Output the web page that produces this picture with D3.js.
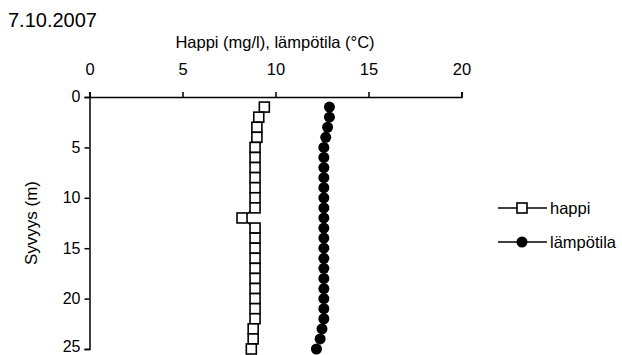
<!DOCTYPE html>
<html>
<head>
<meta charset="utf-8">
<script src="https://cdn.jsdelivr.net/npm/d3@7"></script>
<style>
  html, body { margin: 0; padding: 0; background: #fff; }
  svg { display: block; font-family: "Liberation Sans", Arial, sans-serif; }
</style>
</head>
<body>
<svg id="chart" width="622" height="355"></svg>
<script>
// Depth profile, 7.10.2007
const depths = [1,2,3,4,5,6,7,8,9,10,11,12,13,14,15,16,17,18,19,20,21,22,23,24,25];
const happi = [9.4,9.1,9.0,9.0,8.9,8.9,8.9,8.9,8.9,8.9,8.9,8.2,8.9,8.9,8.9,8.9,8.9,8.9,8.9,8.9,8.9,8.9,8.8,8.8,8.7];
const lampotila = [12.9,12.9,12.8,12.7,12.6,12.6,12.6,12.6,12.6,12.6,12.6,12.6,12.6,12.6,12.6,12.6,12.6,12.6,12.6,12.6,12.6,12.6,12.5,12.4,12.2];
const xTicks = [0,5,10,15,20];
const yTicks = [0,5,10,15,20,25];
const seriesNames = ["happi", "lämpötila"];

const svg = d3.select("#chart");
const plot = { left: 89.5, right: 461.5, top: 97, bottom: 349 };

const x = d3.scaleLinear().domain([0, 20]).range([plot.left, plot.right]);
const y = d3.scaleLinear().domain([0, 25]).range([plot.top, plot.bottom]);

// Date caption
svg.append("text").attr("x", 8).attr("y", 27)
  .attr("font-size", 20).attr("fill", "#000").text("7.10.2007");

// Axis title over the top axis
svg.append("text").attr("x", 275).attr("y", 48).attr("text-anchor", "middle")
  .attr("font-size", 16.5).attr("fill", "#000").text("Happi (mg/l), lämpötila (°C)");

// Top x axis
const xAxis = svg.append("g").attr("transform", `translate(0,${plot.top})`)
  .call(d3.axisTop(x).tickValues(xTicks).tickSize(5).tickPadding(17).tickFormat(d3.format("d")));
xAxis.selectAll("text").attr("font-size", 16.5).attr("fill", "#000").attr("font-family", null);
xAxis.select(".domain").attr("stroke", "#000").attr("stroke-width", 1.5);
xAxis.selectAll(".tick line").attr("stroke", "#000").attr("stroke-width", 1.5);

// Left y axis (depth); the bottom label is nudged up to stay inside the canvas
const yAxis = svg.append("g").attr("transform", `translate(${plot.left},0)`)
  .call(d3.axisLeft(y).tickValues(yTicks).tickSize(5).tickPadding(4).tickFormat(d3.format("d")));
yAxis.selectAll("text").attr("font-size", 16).attr("fill", "#000").attr("font-family", null)
  .attr("dy", d => d === 25 ? "0.16em" : "0.3em");
yAxis.select(".domain").attr("stroke", "#000").attr("stroke-width", 1.5);
yAxis.selectAll(".tick line").attr("stroke", "#000").attr("stroke-width", 1.5);

// Y axis title
svg.append("text").attr("transform", "translate(37,223) rotate(-90)")
  .attr("text-anchor", "middle").attr("font-size", 17).attr("fill", "#000").text("Syvyys (m)");

const line = vals => d3.line().x((d, i) => x(vals[i])).y(d => y(d))(depths);

// Oxygen series
svg.append("path").attr("d", line(happi)).attr("fill", "none")
  .attr("stroke", "#000").attr("stroke-width", 1.5);
svg.append("g").selectAll("rect").data(depths).join("rect")
  .attr("x", (d, i) => x(happi[i]) - 5).attr("y", d => y(d) - 5)
  .attr("width", 10).attr("height", 10)
  .attr("fill", "#fff").attr("stroke", "#000").attr("stroke-width", 1.6);

// Temperature series
svg.append("path").attr("d", line(lampotila)).attr("fill", "none")
  .attr("stroke", "#000").attr("stroke-width", 1.5);
svg.append("g").selectAll("circle").data(depths).join("circle")
  .attr("cx", (d, i) => x(lampotila[i])).attr("cy", d => y(d))
  .attr("r", 5.5).attr("fill", "#000");

// Legend
const legend = svg.append("g");
seriesNames.forEach((name, i) => {
  const ly = 208 + i * 34;
  legend.append("line").attr("x1", 498).attr("x2", 547).attr("y1", ly).attr("y2", ly)
    .attr("stroke", "#000").attr("stroke-width", 1.5);
  if (i === 0) {
    legend.append("rect").attr("x", 517).attr("y", ly - 5).attr("width", 10).attr("height", 10)
      .attr("fill", "#fff").attr("stroke", "#000").attr("stroke-width", 1.6);
  } else {
    legend.append("circle").attr("cx", 522).attr("cy", ly).attr("r", 5.5).attr("fill", "#000");
  }
  legend.append("text").attr("x", 550).attr("y", ly + 6)
    .attr("font-size", 16.5).attr("fill", "#000").text(name);
});
</script>
</body>
</html>
